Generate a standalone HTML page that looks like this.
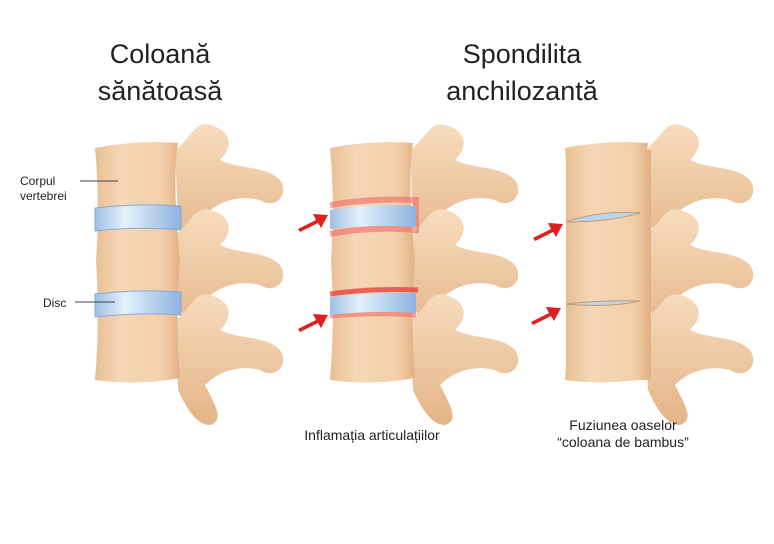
<!DOCTYPE html>
<html><head><meta charset="utf-8"><style>
html,body{margin:0;padding:0;background:#fff;}
svg{display:block}
text{font-family:"Liberation Sans",sans-serif;fill:#222}
</style></head><body>
<svg width="774" height="544" viewBox="0 0 774 544" xmlns="http://www.w3.org/2000/svg">
<defs>
<linearGradient id="bone" x1="0" x2="1" y1="0" y2="0">
<stop offset="0" stop-color="#e9bf93"/><stop offset="0.3" stop-color="#f6d7b6"/><stop offset="0.8" stop-color="#f3cfa9"/><stop offset="1" stop-color="#e2b083"/></linearGradient>
<linearGradient id="proc" x1="0" x2="0" y1="0" y2="1">
<stop offset="0" stop-color="#f7dcbd"/><stop offset="1" stop-color="#e4b486"/></linearGradient>
<linearGradient id="disc" x1="0" x2="1" y1="0" y2="0">
<stop offset="0" stop-color="#9fbfe6"/><stop offset="0.35" stop-color="#e3f3fc"/><stop offset="1" stop-color="#8fb2e0"/></linearGradient>
<g id="procs">
<!-- processes for one level at y offset -->
<path d="M175,150 C190,140 195,120 210,125 C230,130 235,145 220,160 C240,170 265,165 280,180 C290,195 275,210 260,200 C240,195 220,200 205,215 C215,235 225,250 210,255 C195,255 185,235 178,220 Z" fill="url(#proc)"/>
</g>
</defs>

<g id="spine">
<use href="#procs"/>
<use href="#procs" transform="translate(0,85)"/>
<use href="#procs" transform="translate(0,170)"/>
<path d="M95,148 Q135,140 178,143 Q172,180 180,262 Q175,320 180,378 Q135,386 95,380 Q100,320 96,262 Q100,200 95,148 Z" fill="url(#bone)"/>
</g>
<!-- discs spine 1 -->
<path d="M95,208 Q137,203 181,206 L181,230 Q137,226 95,231 Z" fill="url(#disc)" stroke="#8aa9d4" stroke-width="1"/>
<path d="M95,294 Q137,289 181,292 L181,315 Q137,312 95,317 Z" fill="url(#disc)" stroke="#8aa9d4" stroke-width="1"/>

<use href="#spine" transform="translate(235,0)"/>
<!-- inflamed discs spine 2 -->
<path d="M330,205 Q372,198 416,200 L416,230 Q372,226 330,234" fill="none" stroke="#ee6a6a" stroke-width="6" opacity="0.6"/>
<path d="M330,210 Q372,203 416,206 L416,227 Q372,224 330,229 Z" fill="url(#disc)"/>
<path d="M330,294 Q372,288 418,290" fill="none" stroke="#e83030" stroke-width="5" opacity="0.7"/>
<path d="M330,316 Q372,312 416,315" fill="none" stroke="#ee6a6a" stroke-width="5" opacity="0.6"/>
<path d="M330,297 Q372,292 416,293 L416,313 Q372,310 330,315 Z" fill="url(#disc)"/>

<use href="#spine" transform="translate(470,0)"/>
<rect x="566" y="150" width="85" height="230" fill="url(#bone)"/>
<path d="M566,222 Q600,210 640,213 Q610,222 566,222 Z" fill="#bcd5f0" stroke="#c7996d" stroke-width="1"/>
<path d="M566,304 Q600,300 640,301 Q610,308 566,304 Z" fill="#bcd5f0" stroke="#c7996d" stroke-width="1"/>

<!-- arrows -->
<g fill="#e02020">
<path d="M298,229 L316,220 L313,214 L328,215 L321,228 L318,223 L300,232 Z"/>
<path d="M298,329 L316,320 L313,314 L328,315 L321,328 L318,323 L300,332 Z"/>
<path d="M533,238 L551,229 L548,223 L563,224 L556,237 L553,232 L535,241 Z"/>
<path d="M531,322 L549,313 L546,307 L561,308 L554,321 L551,316 L533,325 Z"/>
</g>

<!-- labels -->
<line x1="80" y1="181" x2="118" y2="181" stroke="#444" stroke-width="1"/>
<line x1="75" y1="302" x2="115" y2="302" stroke="#444" stroke-width="1"/>
<text x="20" y="185" font-size="12">Corpul</text>
<text x="20" y="200" font-size="12">vertebrei</text>
<text x="43" y="307" font-size="12">Disc</text>
<text x="160" y="63" font-size="27" text-anchor="middle">Coloană</text>
<text x="160" y="100" font-size="27" text-anchor="middle">sănătoasă</text>
<text x="522" y="63" font-size="27" text-anchor="middle">Spondilita</text>
<text x="522" y="100" font-size="27" text-anchor="middle">anchilozantă</text>
<text x="372" y="440" font-size="14" text-anchor="middle">Inflamația articulațiilor</text>
<text x="623" y="430" font-size="14" text-anchor="middle">Fuziunea oaselor</text>
<text x="623" y="447" font-size="14" text-anchor="middle">“coloana de bambus”</text>
</svg>
</body></html>
